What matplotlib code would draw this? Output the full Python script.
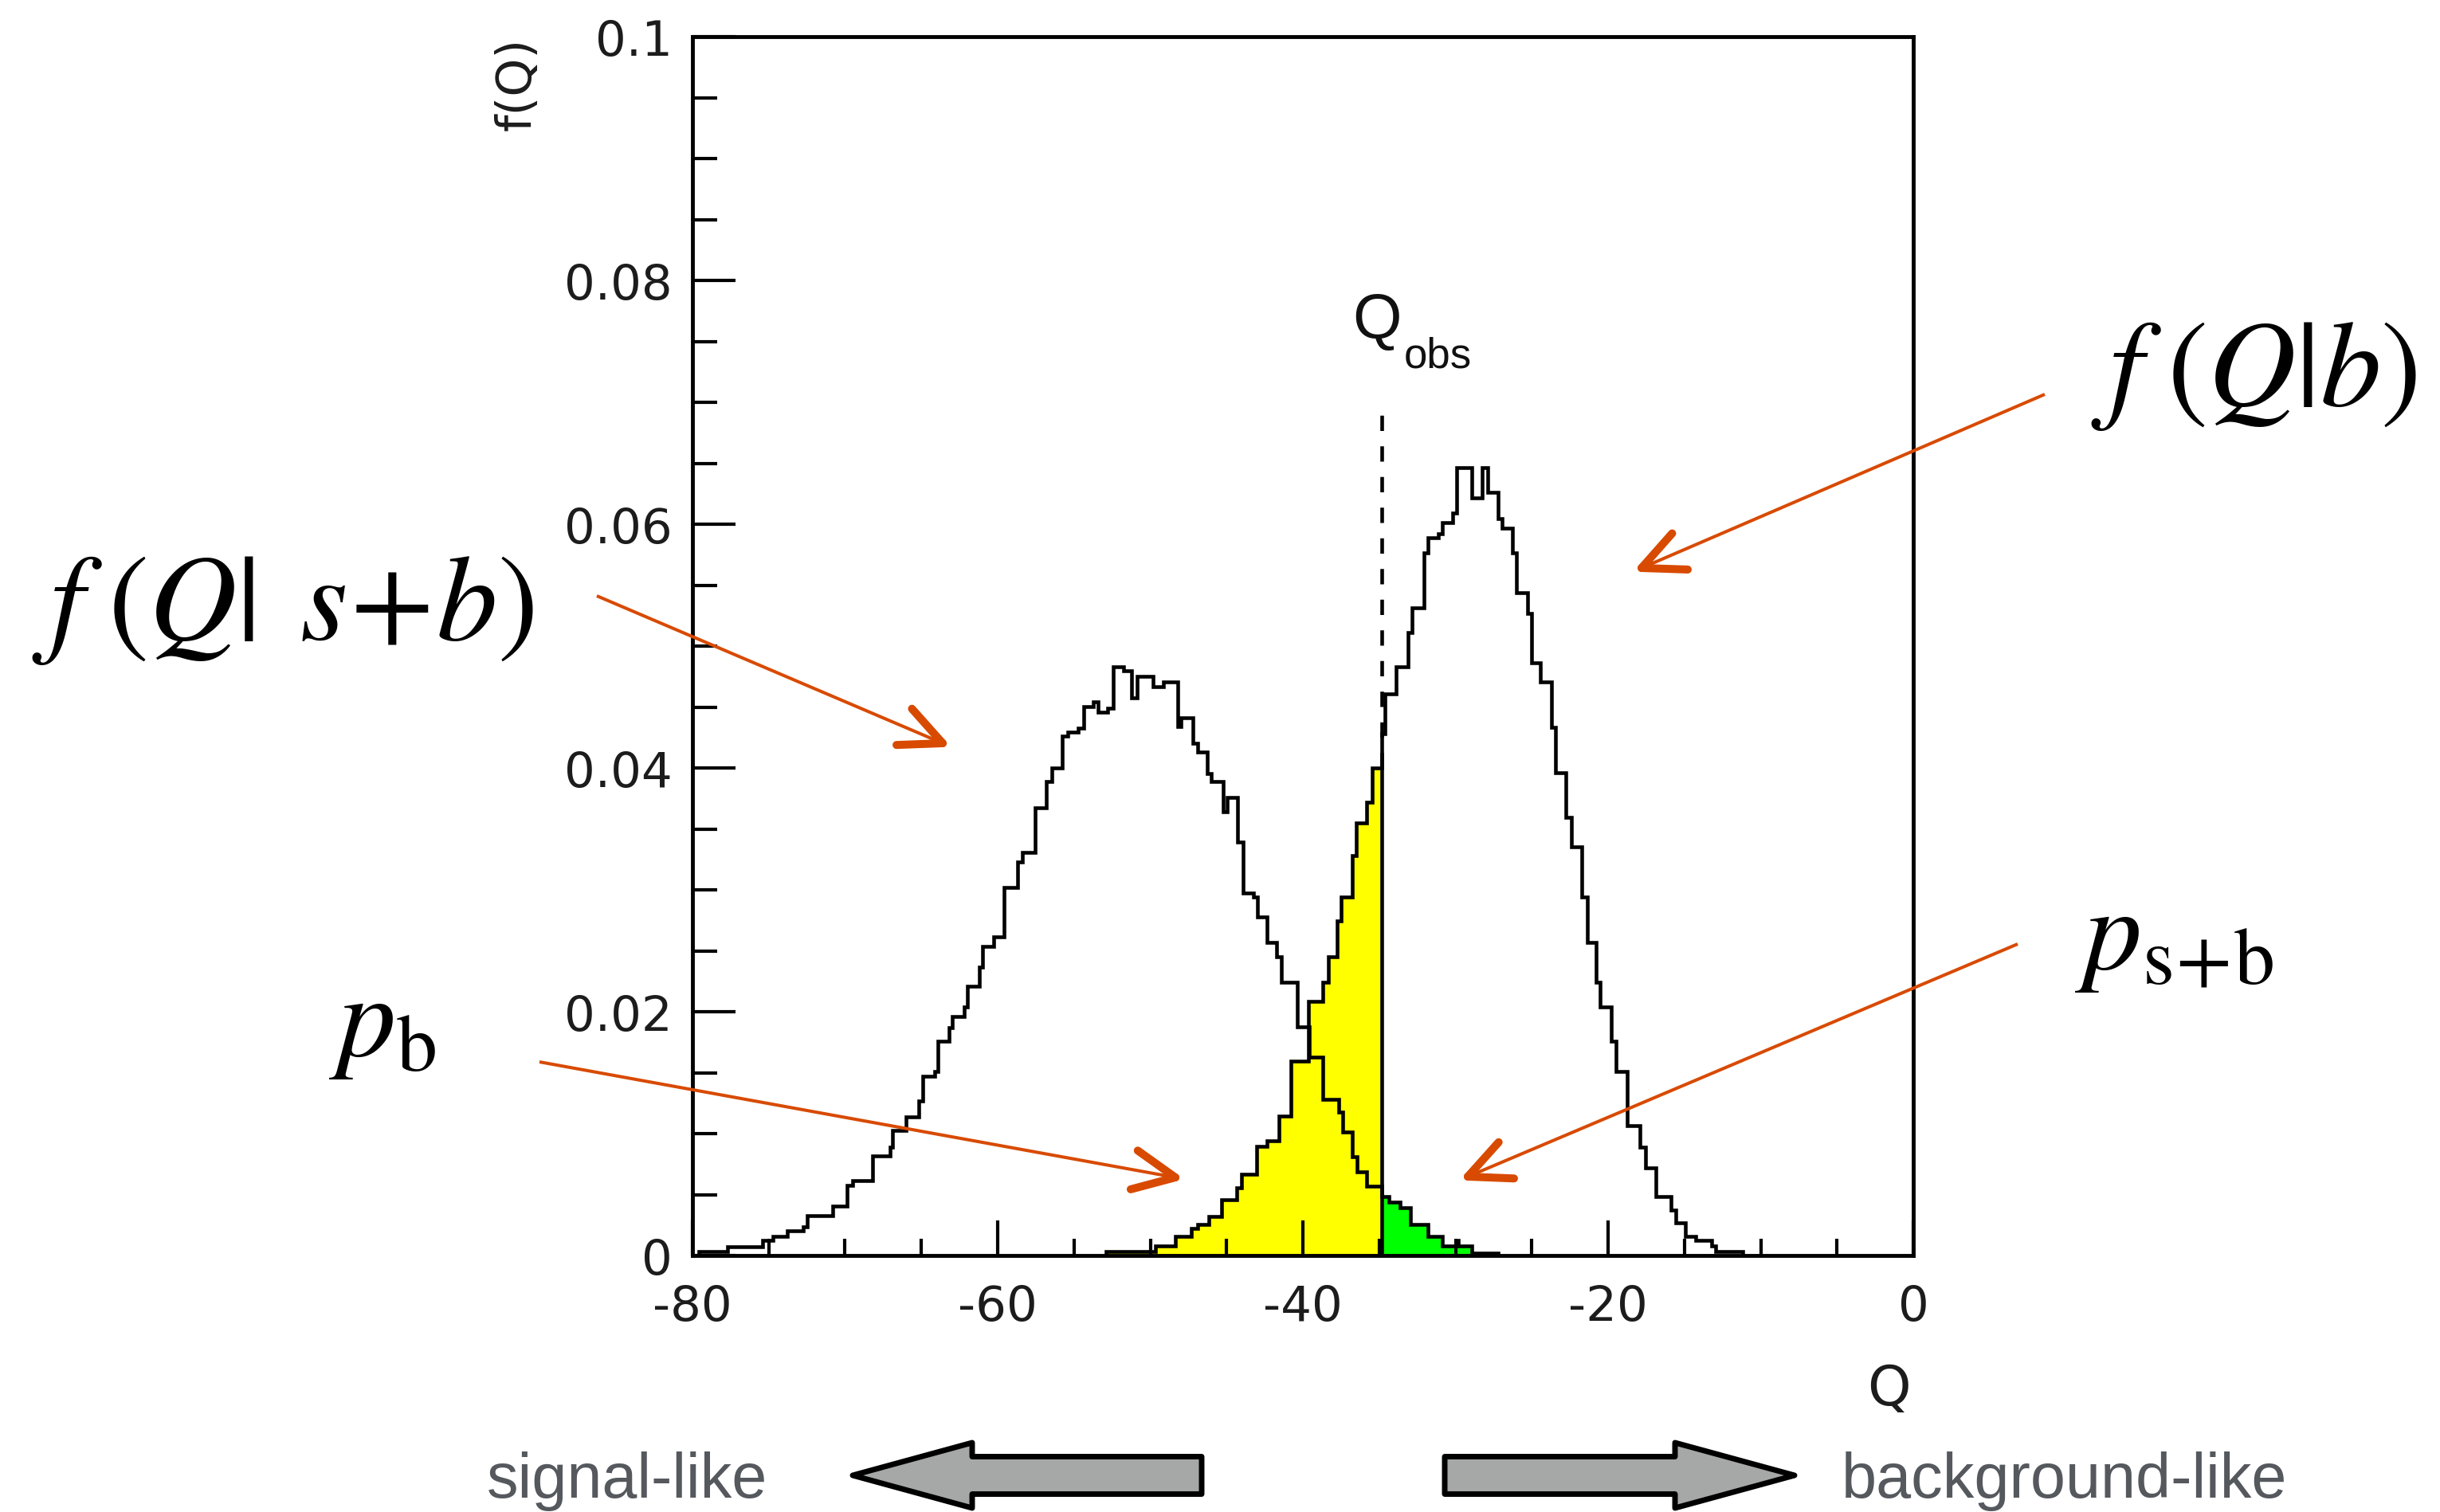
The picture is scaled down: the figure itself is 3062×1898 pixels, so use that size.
import matplotlib
matplotlib.use("Agg")
import matplotlib.pyplot as plt
import numpy as np
from matplotlib.patches import Polygon
from matplotlib.ticker import FixedLocator, MultipleLocator

plt.rcParams["font.family"] = ["Liberation Sans", "DejaVu Sans"]
plt.rcParams["mathtext.fontset"] = "stix"

# ---------------------------------------------------------------------------
# Data
# ---------------------------------------------------------------------------

# f(Q|s+b): step edges in Q and heights
sb_edges = [-79.6, -77.68, -75.42, -74.73, -73.77, -72.72, -72.46, -70.81, -69.85, -69.5,
            -68.2, -67.07, -66.9, -66.0, -65.15, -64.9, -64.1, -63.9, -63.2, -63.0,
            -62.2, -62.0, -61.2, -61.0, -60.28, -59.6, -58.7, -58.36, -57.55, -56.8,
            -56.45, -55.75, -55.4, -54.71, -54.36, -53.75, -53.4, -52.79, -52.44, -51.75,
            -51.23, -50.88, -49.83, -49.14, -48.18, -48.01, -47.22, -46.88, -46.27, -46.0,
            -45.22, -44.96, -44.26, -43.92, -43.22, -42.96, -42.35, -41.74, -41.39, -40.35,
            -39.6, -38.69, -37.65, -37.39, -36.78, -36.43, -35.82, -34.85, -34.34, -33.65,
            -32.95, -31.82, -30.86, -29.99, -29.82, -28.94, -27.21]
sb_vals = [0.00035, 0.00075, 0.00125, 0.00158, 0.00204, 0.00237, 0.00327, 0.00406, 0.00575, 0.00613,
           0.00816, 0.0089, 0.01025, 0.01138, 0.01266, 0.01468, 0.01509, 0.01757, 0.01869, 0.01959,
           0.02038, 0.02207, 0.02364, 0.02533, 0.02612, 0.03017, 0.0323, 0.0331, 0.03676, 0.03886,
           0.04003, 0.04259, 0.04294, 0.04329, 0.04505, 0.0454, 0.04457, 0.04492, 0.04831, 0.04796,
           0.04574, 0.04749, 0.04667, 0.04703, 0.04341, 0.04411, 0.042, 0.0413, 0.03956, 0.03886,
           0.0364, 0.03757, 0.03395, 0.02975, 0.0294, 0.02777, 0.02567, 0.0245, 0.0224, 0.01878,
           0.01625, 0.01283, 0.01179, 0.01015, 0.00808, 0.00688, 0.00569, 0.00481, 0.00438, 0.00394,
           0.00253, 0.00155, 0.00078, 0.00122, 0.00078, 0.0002]

# f(Q|b)
b_edges = [-52.9, -49.66, -48.36, -47.31, -46.88, -46.18, -45.31, -44.35, -44.0, -43.05,
           -42.35, -41.57, -40.78, -39.65, -38.69, -38.35, -37.74, -37.47, -36.78, -36.52,
           -35.82, -35.47, -34.85, -34.6, -33.87, -33.12, -32.86, -32.08, -31.82, -31.12,
           -30.86, -30.17, -29.9, -28.95, -28.25, -27.9, -27.21, -26.95, -26.25, -25.99,
           -25.29, -25.03, -24.42, -23.73, -23.46, -22.77, -22.42, -21.72, -21.38, -20.77,
           -20.5, -19.81, -19.46, -18.76, -17.89, -17.55, -16.85, -15.89, -15.54, -14.93,
           -14.24, -13.19, -12.93, -11.19]
b_vals = [0.0003, 0.0008, 0.00155, 0.0022, 0.00253, 0.00318, 0.0046, 0.00558, 0.00667, 0.00895,
          0.00939, 0.01146, 0.01593, 0.02083, 0.0224, 0.0245, 0.02742, 0.0294, 0.03279, 0.03547,
          0.03722, 0.04002, 0.04283, 0.0461, 0.04831, 0.05112, 0.05315, 0.05765, 0.05889, 0.05922,
          0.06013, 0.06091, 0.06463, 0.06215, 0.06463, 0.0626, 0.06046, 0.05967, 0.05765, 0.05438,
          0.0527, 0.04864, 0.04707, 0.04336, 0.03964, 0.03593, 0.03356, 0.02938, 0.02567, 0.0224,
          0.02038, 0.01757, 0.01509, 0.01064, 0.0089, 0.00721, 0.00485, 0.00373, 0.00271, 0.00154,
          0.00125, 0.0008, 0.00035]

q_obs = -34.85
q_obs_top = 0.0697

x_ticks = [-80, -60, -40, -20, 0]
x_tick_labels = ["-80", "-60", "-40", "-20", "0"]
y_ticks = [0, 0.02, 0.04, 0.06, 0.08, 0.1]
y_tick_labels = ["0", "0.02", "0.04", "0.06", "0.08", "0.1"]

# ---------------------------------------------------------------------------
# Figure
# ---------------------------------------------------------------------------
W, H = 3062, 1899
fig = plt.figure(figsize=(W / 100, H / 100), dpi=100)
fig.patch.set_facecolor("white")

ax = fig.add_axes([869 / W, 1 - 1577 / H, (2401 - 869) / W, (1577 - 47) / H])

LW = 3.3
nb = b_edges.index(q_obs)
ns = sb_edges.index(q_obs)

# fills: p_b (yellow) and p_s+b (green)
ax.stairs(b_vals[:nb], b_edges[:nb + 1], fill=True, color="#ffff00", lw=0, zorder=1)
ax.stairs(sb_vals[ns:], sb_edges[ns:], fill=True, color="#00ff00", lw=0, zorder=1)

# outlines
ax.stairs(sb_vals, sb_edges, color="black", lw=LW, joinstyle="miter", zorder=3)
ax.stairs(b_vals, b_edges, color="black", lw=LW, joinstyle="miter", zorder=3)
ax.vlines(q_obs, 0, b_vals[nb - 1], color="black", lw=LW, zorder=3)
ax.vlines(q_obs, b_vals[nb - 1], q_obs_top, color="black", lw=LW,
          linestyles=(0, (4.2, 4.2)), zorder=3)

ax.text(-36.76, 0.0753, "Q", fontsize=57, ha="left", va="baseline", color="#111111")
ax.text(-33.37, 0.0729, "obs", fontsize=38, ha="left", va="baseline", color="#111111")

ax.set_xlim(-80, 0)
ax.set_ylim(0, 0.1)
ax.xaxis.set_major_locator(FixedLocator(x_ticks))
ax.set_xticklabels(x_tick_labels, family="DejaVu Sans")
ax.yaxis.set_major_locator(FixedLocator(y_ticks))
ax.set_yticklabels(y_tick_labels, family="DejaVu Sans")
ax.xaxis.set_minor_locator(MultipleLocator(5))
ax.yaxis.set_minor_locator(MultipleLocator(0.005))
ax.tick_params(axis="both", which="both", direction="in", top=False, right=False,
               width=3, color="black", labelcolor="#1c1c1c")
ax.tick_params(axis="x", which="major", length=32, pad=25, labelsize=44)
ax.tick_params(axis="x", which="minor", length=15)
ax.tick_params(axis="y", which="major", length=39, pad=18, labelsize=44)
ax.tick_params(axis="y", which="minor", length=22)
for sp in ax.spines.values():
    sp.set_linewidth(3.5)

ax.set_xlabel("Q", fontsize=50, color="#1c1c1c", family="DejaVu Sans")
ax.xaxis.label.set_ha("right")
ax.xaxis.label.set_va("baseline")
ax.xaxis.set_label_coords(0.998, -0.1222)
ax.set_ylabel("f(Q)", fontsize=44, color="#1c1c1c", ha="right", va="center",
              family="DejaVu Sans")
ax.yaxis.set_label_coords(-0.1436, 1.0)

# ---------------------------------------------------------------------------
# Overlay in pixel coordinates for annotations
# ---------------------------------------------------------------------------
ov = fig.add_axes([0, 0, 1, 1])
ov.set_xlim(0, W)
ov.set_ylim(H, 0)
ov.axis("off")

ORANGE = "#d84a00"


def orange_arrow(x0, y0, x1, y1):
    ov.plot([x0, x1], [y0, y1], color=ORANGE, lw=2.9, solid_capstyle="butt")
    ang = np.arctan2(y0 - y1, x0 - x1)
    for da in (0.44, -0.44):
        ov.plot([x1, x1 + 58 * np.cos(ang + da)], [y1, y1 + 58 * np.sin(ang + da)],
                color=ORANGE, lw=7.2, solid_capstyle="round")


orange_arrow(2566, 496, 2060, 714)
orange_arrow(749, 749, 1183, 934)
orange_arrow(677, 1334, 1475, 1479)
orange_arrow(2532, 1186, 1842, 1478)

ov.text(40, 803, r"$f\;(Q|\;\,s\!+\!b)$", fontsize=110, ha="left", va="baseline")
ov.text(2624, 509, r"$f\;(Q|b)$", fontsize=110, ha="left", va="baseline")
ov.text(413, 1325, r"$p_{\mathrm{b}}$", fontsize=105, ha="left", va="baseline")
ov.text(2604, 1216, r"$p_{\mathrm{s}\!+\!\mathrm{b}}$", fontsize=105, ha="left", va="baseline")


def block_arrow(tip_x, tail_x, yc, head_len=150, head_half=41, shaft_half=23.5):
    s = 1 if tail_x > tip_x else -1
    hb = tip_x + s * head_len
    pts = [(tip_x, yc), (hb, yc - head_half), (hb, yc - shaft_half), (tail_x, yc - shaft_half),
           (tail_x, yc + shaft_half), (hb, yc + shaft_half), (hb, yc + head_half)]
    ov.add_patch(Polygon(pts, closed=True, facecolor="#a5a8a6", edgecolor="black",
                         lw=5, joinstyle="round"))


block_arrow(1070, 1508, 1853)
block_arrow(2252, 1813, 1853)

ov.text(611, 1880, "signal-like", fontsize=57, color="#55595e", ha="left", va="baseline")
ov.text(2311, 1880, "background-like", fontsize=57, color="#55595e", ha="left", va="baseline")

fig.savefig("out.png", dpi=100)
